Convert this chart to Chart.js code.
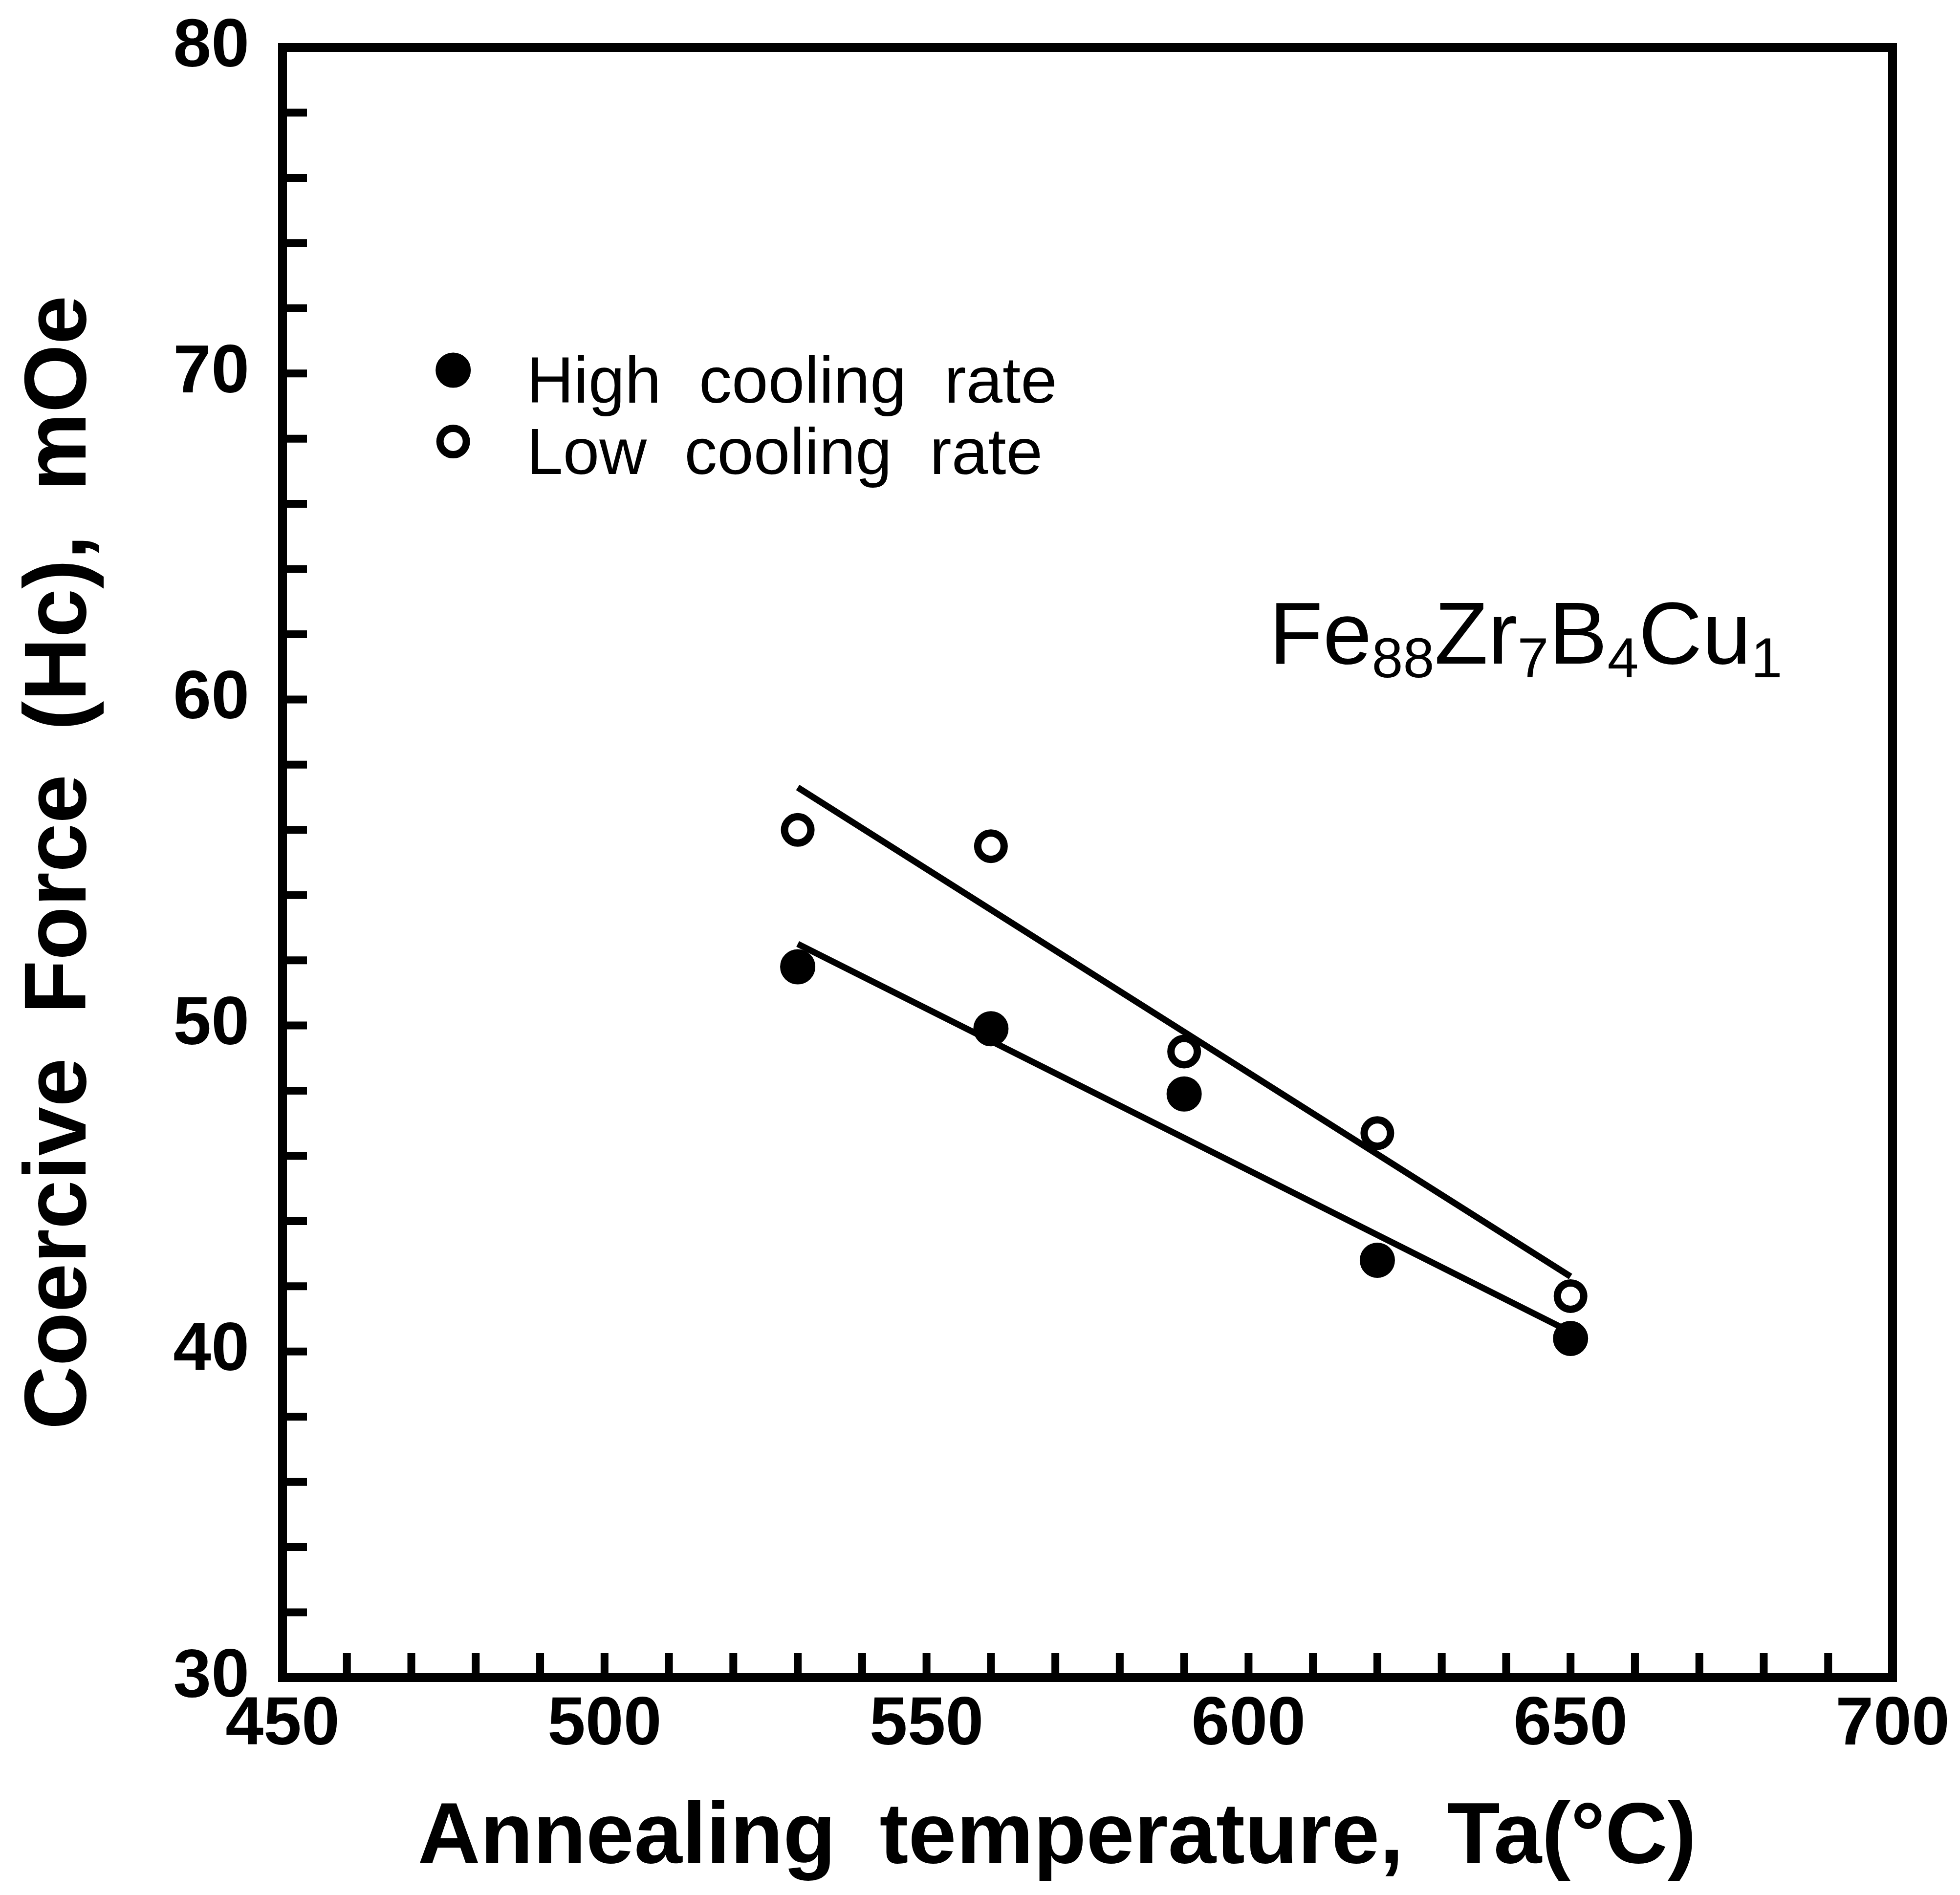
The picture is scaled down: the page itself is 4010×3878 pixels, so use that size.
<!DOCTYPE html>
<html>
<head>
<meta charset="utf-8">
<script src="https://cdn.jsdelivr.net/npm/chart.js@4.4.1/dist/chart.umd.min.js"></script>
<style>
  html, body { margin: 0; padding: 0; background: #fff; }
</style>
</head>
<body>
<canvas id="hcChart" width="4010" height="3878"></canvas>
<script>
// values
const temps = [530, 560, 590, 620, 650];
const highRate = [51.8, 49.9, 47.9, 42.8, 40.4];
const lowRate = [56.0, 55.5, 49.2, 46.7, 41.7];
const fitTemps = [530, 650];
const highFit = [52.5, 40.6];
const lowFit = [57.3, 42.3];
const xTickLabels = [450, 500, 550, 600, 650, 700];
const yTickLabels = [30, 40, 50, 60, 70, 80];
const seriesNames = ['High cooling rate', 'Low cooling rate'];
const alloy = [['Fe', '88'], ['Zr', '7'], ['B', '4'], ['Cu', '1']];

// where the inside legend and the alloy label sit, in data units
const legendAt = [476.5, 70.1];
const alloyAt = [603.2, 61.1];

const FONT = "'Liberation Sans', Arial, sans-serif";
Chart.defaults.font.family = FONT;
Chart.defaults.color = '#000';

function pts(xs, ys) {
  return xs.map((v, i) => ({ x: v, y: ys[i] }));
}

const framePlugin = {
  id: 'frame',
  beforeDraw(chart) {
    chart.ctx.wordSpacing = '40px';
  },
  afterDraw(chart) {
    const { ctx, chartArea: a, scales: { x, y } } = chart;
    ctx.save();
    ctx.strokeStyle = '#000';
    ctx.lineWidth = 16;
    ctx.beginPath();
    y.ticks.forEach(t => {
      const py = y.getPixelForValue(t.value);
      ctx.moveTo(a.left, py);
      ctx.lineTo(a.left + 50, py);
    });
    x.ticks.forEach(t => {
      const px = x.getPixelForValue(t.value);
      ctx.moveTo(px, a.bottom);
      ctx.lineTo(px, a.bottom - 50);
    });
    ctx.stroke();
    ctx.lineWidth = 18;
    ctx.strokeRect(a.left, a.top, a.right - a.left, a.bottom - a.top);
    ctx.restore();
  }
};

const legendPlugin = {
  id: 'insideLegend',
  afterDraw(chart) {
    const { ctx, scales: { x, y } } = chart;
    const x0 = x.getPixelForValue(legendAt[0]);
    const y0 = y.getPixelForValue(legendAt[1]);
    ctx.save();
    ctx.font = '134px ' + FONT;
    ctx.textBaseline = 'alphabetic';
    chart.data.datasets.filter(d => d.inLegend).forEach((d, i) => {
      const cy = y0 + i * 146;
      ctx.beginPath();
      ctx.arc(x0, cy, d.pointRadius, 0, Math.PI * 2);
      ctx.fillStyle = d.pointBackgroundColor;
      ctx.fill();
      ctx.lineWidth = d.pointBorderWidth;
      ctx.strokeStyle = '#000';
      ctx.stroke();
      ctx.fillStyle = '#000';
      ctx.fillText(d.label, x0 + 150, cy + 66);
    });
    ctx.restore();
  }
};

const alloyPlugin = {
  id: 'alloyLabel',
  afterDraw(chart) {
    const { ctx, scales: { x, y } } = chart;
    let px = x.getPixelForValue(alloyAt[0]);
    const py = y.getPixelForValue(alloyAt[1]);
    ctx.save();
    ctx.fillStyle = '#000';
    ctx.textBaseline = 'alphabetic';
    alloy.forEach(([el, n]) => {
      ctx.font = '180px ' + FONT;
      ctx.fillText(el, px, py);
      px += ctx.measureText(el).width;
      ctx.font = '115px ' + FONT;
      ctx.fillText(n, px, py + 28);
      px += ctx.measureText(n).width;
    });
    ctx.restore();
  }
};

const ctx = document.getElementById('hcChart').getContext('2d');
new Chart(ctx, {
  type: 'scatter',
  data: {
    datasets: [
      {
        label: seriesNames[0],
        inLegend: true,
        data: pts(temps, highRate),
        pointRadius: 30,
        pointBorderWidth: 12,
        pointBackgroundColor: '#000',
        pointBorderColor: '#000'
      },
      {
        label: seriesNames[1],
        inLegend: true,
        data: pts(temps, lowRate),
        pointRadius: 27,
        pointBorderWidth: 15,
        pointBackgroundColor: '#fff',
        pointBorderColor: '#000'
      },
      {
        label: 'high fit',
        data: pts(fitTemps, highFit),
        showLine: true,
        borderColor: '#000',
        borderWidth: 13,
        pointRadius: 0
      },
      {
        label: 'low fit',
        data: pts(fitTemps, lowFit),
        showLine: true,
        borderColor: '#000',
        borderWidth: 13,
        pointRadius: 0
      }
    ]
  },
  options: {
    responsive: false,
    animation: false,
    devicePixelRatio: 1,
    layout: { padding: { left: 0, right: 138, top: 97, bottom: 0 } },
    plugins: {
      legend: { display: false },
      tooltip: { enabled: false }
    },
    scales: {
      x: {
        type: 'linear',
        min: 450,
        max: 700,
        grid: { display: false, drawTicks: false },
        border: { display: false },
        ticks: {
          stepSize: 10,
          autoSkip: false,
          maxRotation: 0,
          padding: 14,
          font: { size: 140, weight: 'bold' },
          callback: v => xTickLabels.includes(v) ? String(v) : ''
        },
        title: {
          display: true,
          // trailing space nudges the centred title a little left, as in the original
          text: 'Annealing temperature, Ta(°C) \u2009',
          font: { size: 177, weight: 'bold' },
          padding: { top: 0, bottom: 9 }
        },
        afterFit(scale) {
          scale.height = 3878 - 3433;
          scale.paddingLeft = 0;
          scale.paddingRight = 0;
        }
      },
      y: {
        type: 'linear',
        min: 30,
        max: 80,
        grid: { display: false, drawTicks: false },
        border: { display: false },
        ticks: {
          stepSize: 2,
          autoSkip: false,
          padding: 68,
          font: { size: 140, weight: 'bold' },
          callback: v => yTickLabels.includes(v) ? String(v) : ''
        },
        title: {
          display: true,
          text: 'Coercive Force (Hc), mOe',
          font: { size: 180, weight: 'bold' },
          padding: { top: 17, bottom: 0 }
        },
        afterFit(scale) {
          scale.width = 578;
          scale.paddingTop = 0;
          scale.paddingBottom = 0;
        }
      }
    }
  },
  plugins: [framePlugin, legendPlugin, alloyPlugin]
});
</script>
</body>
</html>
